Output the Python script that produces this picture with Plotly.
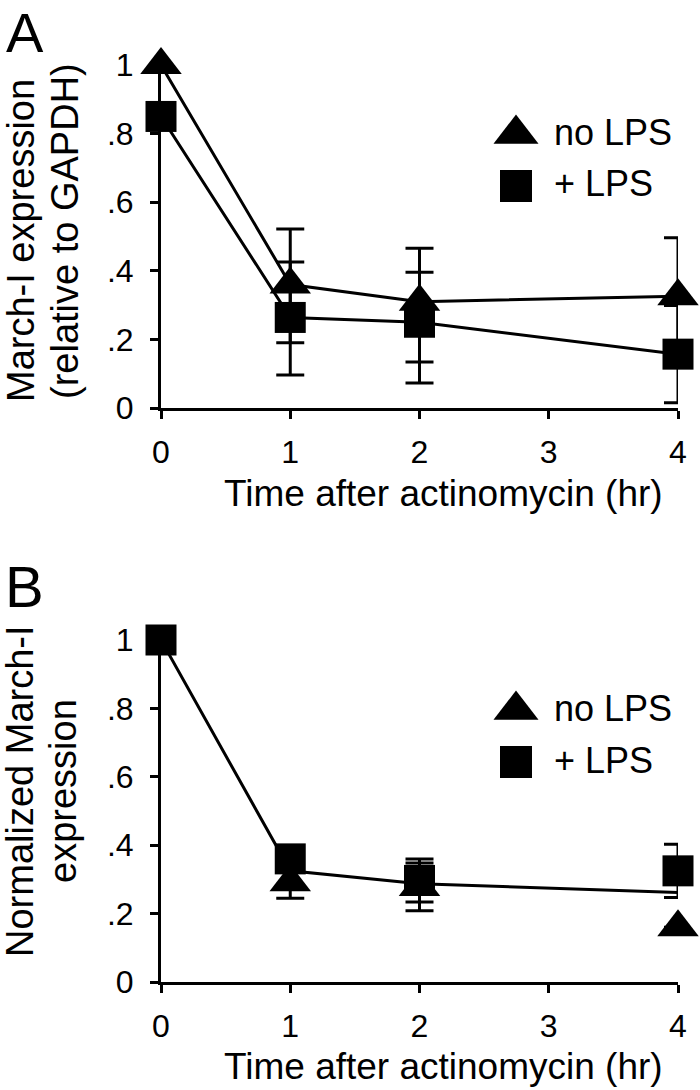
import plotly.graph_objects as go

W, H = 700, 1090
FONT = "Liberation Sans, Arial, Helvetica, sans-serif"

# ---- data ----
time_hr = [0, 1, 2, 4]
x_tickvals = [0, 1, 2, 3, 4]
x_ticktext = ["0", "1", "2", "3", "4"]
y_tickvals = [0, 0.2, 0.4, 0.6, 0.8, 1.0]
y_ticktext = ["0", ".2", ".4", ".6", ".8", "1"]

# Panel A: March-I expression relative to GAPDH
a_nolps = [1.0, 0.36, 0.31, 0.326]
a_nolps_err_plus = [None, 0.162, 0.156, 0.17]
a_nolps_err_minus = [None, 0.17, 0.176, 0.17]
a_lps = [0.85, 0.264, 0.25, 0.157]
a_lps_err_plus = [None, 0.162, 0.146, 0.142]
a_lps_err_minus = [None, 0.168, 0.177, 0.142]

# Panel B: normalized March-I expression
b_nolps = [None, 0.292, 0.278, 0.16]
b_nolps_err = [None, 0.047, 0.07, None]
b_lps = [1.0, 0.36, 0.297, 0.325]
b_lps_err = [None, 0.03, 0.063, 0.078]
b_mean = [1.0, 0.325, 0.287, 0.262]

series_names = ["no LPS", "+ LPS"]

TRI = 36
SQ = 31
LW = 3


def err(plus, minus=None):
    d = dict(type="data", array=plus, symmetric=minus is None, color="black",
             thickness=3, width=14, visible=True)
    if minus is not None:
        d["arrayminus"] = minus
    return d


fig = go.Figure()

# Panel A
fig.add_trace(go.Scatter(x=time_hr, y=a_nolps, mode="lines+markers", name=series_names[0],
                         line=dict(color="black", width=LW),
                         marker=dict(symbol="triangle-up", size=TRI, color="black"),
                         error_y=err(a_nolps_err_plus, a_nolps_err_minus),
                         cliponaxis=False, xaxis="x", yaxis="y", showlegend=False))
fig.add_trace(go.Scatter(x=time_hr, y=a_lps, mode="lines+markers", name=series_names[1],
                         line=dict(color="black", width=LW),
                         marker=dict(symbol="square", size=SQ, color="black"),
                         error_y=err(a_lps_err_plus, a_lps_err_minus),
                         cliponaxis=False, xaxis="x", yaxis="y", showlegend=False))

# Panel B
fig.add_trace(go.Scatter(x=time_hr, y=b_mean, mode="lines", line=dict(color="black", width=LW),
                         cliponaxis=False, xaxis="x2", yaxis="y2", showlegend=False))
fig.add_trace(go.Scatter(x=time_hr, y=b_nolps, mode="markers", name=series_names[0],
                         marker=dict(symbol="triangle-up", size=TRI, color="black"),
                         error_y=err(b_nolps_err),
                         cliponaxis=False, xaxis="x2", yaxis="y2", showlegend=False))
fig.add_trace(go.Scatter(x=time_hr, y=b_lps, mode="markers", name=series_names[1],
                         marker=dict(symbol="square", size=SQ, color="black"),
                         error_y=err(b_lps_err),
                         cliponaxis=False, xaxis="x2", yaxis="y2", showlegend=False))

# legend glyphs on a pixel canvas axis
leg_x = 516
leg_rows_A = [134, 186]
leg_rows_B = [710, 762]
for rows in (leg_rows_A, leg_rows_B):
    fig.add_trace(go.Scatter(x=[leg_x], y=[rows[0]], mode="markers",
                             marker=dict(symbol="triangle-up", size=TRI + 3, color="black"),
                             xaxis="x3", yaxis="y3", showlegend=False, cliponaxis=False))
    fig.add_trace(go.Scatter(x=[leg_x], y=[rows[1]], mode="markers",
                             marker=dict(symbol="square", size=SQ + 1, color="black"),
                             xaxis="x3", yaxis="y3", showlegend=False, cliponaxis=False))


def px_x(v):
    return v / W


def px_y(v):
    return 1 - v / H


x_dom = [px_x(161), px_x(678)]
axis_common = dict(showline=True, linecolor="black", linewidth=3, ticks="outside",
                   ticklen=8, tickwidth=3, tickcolor="black", showgrid=False,
                   zeroline=False, tickfont=dict(family=FONT, size=32, color="black"))

fig.update_layout(
    width=W, height=H, margin=dict(l=0, r=0, t=0, b=0, autoexpand=False),
    paper_bgcolor="white", plot_bgcolor="rgba(0,0,0,0)",
    font=dict(family=FONT, color="black"),
    xaxis=dict(domain=x_dom, range=[0, 4], tickvals=x_tickvals, ticktext=x_ticktext,
               anchor="y", ticklabelstandoff=6, **axis_common),
    yaxis=dict(domain=[px_y(408), px_y(65)], range=[0, 1], tickvals=y_tickvals,
               ticktext=y_ticktext, anchor="x", ticklabelstandoff=10, **axis_common),
    xaxis2=dict(domain=x_dom, range=[0, 4], tickvals=x_tickvals, ticktext=x_ticktext,
                anchor="y2", ticklabelstandoff=6, **axis_common),
    yaxis2=dict(domain=[px_y(982), px_y(640)], range=[0, 1], tickvals=y_tickvals,
                ticktext=y_ticktext, anchor="x2", ticklabelstandoff=10, **axis_common),
    xaxis3=dict(domain=[0, 1], range=[0, W], visible=False, anchor="y3", fixedrange=True),
    yaxis3=dict(domain=[0, 1], range=[H, 0], visible=False, anchor="x3", fixedrange=True),
)

ann = []
# panel letters
ann.append(dict(text="A", x=px_x(25), y=px_y(0), yanchor="top", size=56))
ann.append(dict(text="B", x=px_x(24), y=px_y(586), size=58))
# y titles (one annotation per line)
ann.append(dict(text="March-I expression", x=px_x(21), y=px_y(241), textangle=-90, size=38))
ann.append(dict(text="(relative to GAPDH)", x=px_x(65), y=px_y(231), textangle=-90, size=38))
ann.append(dict(text="Normalized March-I", x=px_x(20), y=px_y(791), textangle=-90, size=38))
ann.append(dict(text="expression", x=px_x(63), y=px_y(791), textangle=-90, size=38))
# x titles
ann.append(dict(text="Time after actinomycin (hr)", x=px_x(444), y=px_y(493), size=37))
ann.append(dict(text="Time after actinomycin (hr)", x=px_x(444), y=px_y(1066), size=37))
# legend texts
for rows_txt in ([132, 183], [708, 760]):
    ann.append(dict(text=series_names[0], x=px_x(553), y=px_y(rows_txt[0]), xanchor="left", size=36))
    ann.append(dict(text=series_names[1], x=px_x(553), y=px_y(rows_txt[1]), xanchor="left", size=36))

for a in ann:
    a.setdefault("xanchor", "center")
    a.setdefault("yanchor", "middle")
    size = a.pop("size")
    a.update(xref="paper", yref="paper", showarrow=False, borderpad=0,
             font=dict(family=FONT, size=size, color="black"))
fig.update_layout(annotations=ann)

fig.write_html(
    "out.html",
    config={"displayModeBar": False},
    post_script="document.body.style.margin='0';document.body.style.overflow='hidden';",
)
